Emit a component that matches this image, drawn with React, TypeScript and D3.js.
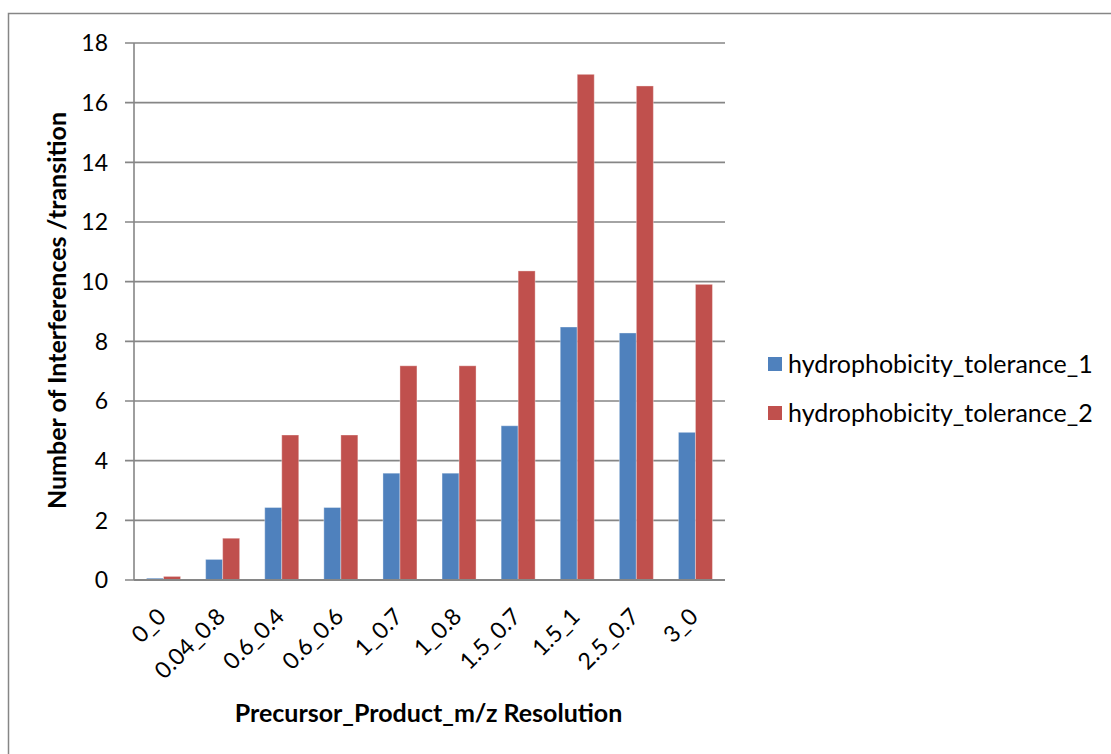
import React from "react";
import * as d3 from "d3";

const categories = ["0_0", "0.04_0.8", "0.6_0.4", "0.6_0.6", "1_0.7", "1_0.8", "1.5_0.7", "1.5_1", "2.5_0.7", "3_0"];
const tolerance1 = [0.06, 0.69, 2.43, 2.43, 3.58, 3.58, 5.17, 8.48, 8.28, 4.95];
const tolerance2 = [0.12, 1.4, 4.86, 4.86, 7.18, 7.18, 10.36, 16.95, 16.56, 9.91];
const seriesNames = ["hydrophobicity_tolerance_1", "hydrophobicity_tolerance_2"];
const seriesColors = ["#4F81BD", "#C0504D"];
const yTicks = [0, 2, 4, 6, 8, 10, 12, 14, 16, 18];

const W = 1111;
const H = 754;
const FONT = "Lato, 'Open Sans', sans-serif";
const GRID = "#868686";

export default function App() {
  const left = 134;
  const right = 725;
  const top = 43;
  const bottom = 580;

  const x = d3.scaleBand<string>().domain(categories).range([left, right]).paddingInner(0).paddingOuter(0);
  const y = d3.scaleLinear().domain([0, 18]).range([bottom, top]);
  const bw = 17;
  const series = [tolerance1, tolerance2];

  return (
    <svg width={W} height={H} style={{ position: "absolute", left: 0, top: 0 }}>
      <rect x={0} y={0} width={W} height={H} fill="#fff" />
      <rect x={8.5} y={13.5} width={W + 20} height={H + 20} fill="none" stroke={GRID} strokeWidth={1.5} />

      {/* gridlines and y ticks */}
      {yTicks.map((t) => (
        <g key={t}>
          <line x1={left - 9} x2={right} y1={y(t)} y2={y(t)} stroke={GRID} strokeWidth={1.6} />
          <text x={108} y={y(t)} dy="0.36em" textAnchor="end" fontFamily={FONT} fontSize={23} fill="#000">
            {t}
          </text>
        </g>
      ))}
      <line x1={left} x2={left} y1={top} y2={bottom} stroke={GRID} strokeWidth={1.6} />

      {/* bars */}
      {series.map((vals, si) =>
        vals.map((v, i) => {
          const cx = (x(categories[i]) as number) + x.bandwidth() / 2;
          const bx = cx - bw + si * bw;
          return (
            <rect
              key={`${si}-${i}`}
              x={bx}
              y={y(v)}
              width={bw}
              height={y(0) - y(v)}
              fill={seriesColors[si]}
              stroke="rgba(255,255,255,0.35)"
              strokeWidth={1}
            />
          );
        })
      )}
      <line x1={left} x2={right} y1={bottom} y2={bottom} stroke={GRID} strokeWidth={2} />

      {/* category labels */}
      {categories.map((c) => {
        const cx = (x(c) as number) + x.bandwidth() / 2;
        const ax = cx + 4;
        const ay = 618;
        return (
          <text
            key={c}
            x={ax}
            y={ay}
            textAnchor="end"
            fontFamily={FONT}
            fontSize={23}
            transform={`rotate(-45 ${ax} ${ay})`}
          >
            {c}
          </text>
        );
      })}

      {/* axis titles */}
      <text
        x={0}
        y={0}
        transform={`translate(66 ${(top + bottom) / 2 - 1}) rotate(-90)`}
        textAnchor="middle"
        fontFamily={FONT}
        fontWeight="bold"
        fontSize={25}
      >
        Number of Interferences /transition
      </text>
      <text x={(left + right) / 2 - 1} y={722} textAnchor="middle" fontFamily={FONT} fontWeight="bold" fontSize={25}>
        Precursor_Product_m/z Resolution
      </text>

      {/* legend */}
      {seriesNames.map((n, i) => (
        <g key={n} transform={`translate(768 ${357 + i * 49})`}>
          <rect x={0} y={0} width={14} height={14} fill={seriesColors[i]} />
          <text x={20} y={7} dy="0.36em" fontFamily={FONT} fontSize={25}>
            {n}
          </text>
        </g>
      ))}
    </svg>
  );
}
